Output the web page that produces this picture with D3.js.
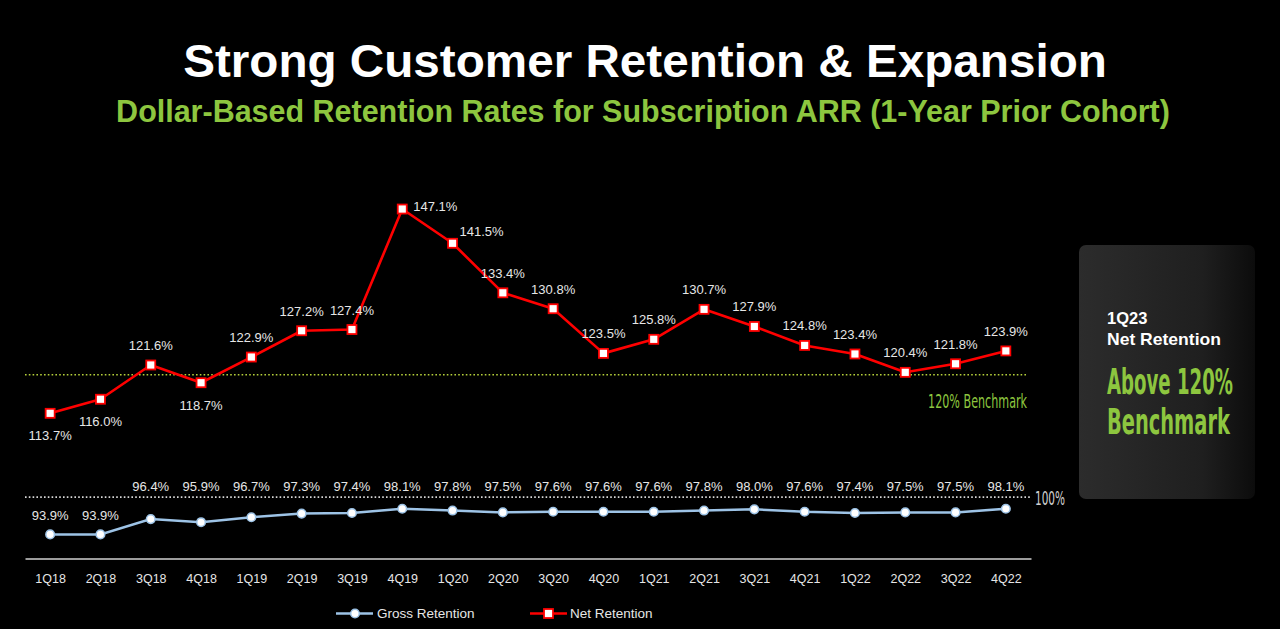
<!DOCTYPE html>
<html>
<head>
<meta charset="utf-8">
<script src="https://cdn.jsdelivr.net/npm/d3@7"></script>
<style>
  html, body { margin: 0; padding: 0; background: #000; }
  svg { display: block; font-family: "Liberation Sans", Arial, Helvetica, sans-serif; }
</style>
</head>
<body>
<svg id="chart" width="1280" height="629"></svg>
<script>
// ---- data ----
const quarters = ["1Q18","2Q18","3Q18","4Q18","1Q19","2Q19","3Q19","4Q19","1Q20","2Q20",
                  "3Q20","4Q20","1Q21","2Q21","3Q21","4Q21","1Q22","2Q22","3Q22","4Q22"];
const netRetention = [113.7,116.0,121.6,118.7,122.9,127.2,127.4,147.1,141.5,133.4,
                      130.8,123.5,125.8,130.7,127.9,124.8,123.4,120.4,121.8,123.9];
const grossRetention = [93.9,93.9,96.4,95.9,96.7,97.3,97.4,98.1,97.8,97.5,
                        97.6,97.6,97.6,97.8,98.0,97.6,97.4,97.5,97.5,98.1];
const benchmarkValue = 120;
const grossReferenceValue = 100;
const seriesNames = ["Gross Retention", "Net Retention"];
const titleText = "Strong Customer Retention & Expansion";
const subtitleText = "Dollar-Based Retention Rates for Subscription ARR (1-Year Prior Cohort)";
const calloutLines = ["1Q23", "Net Retention", "Above 120%", "Benchmark"];

// ---- styling ----
const GREEN = "#8dc63f";
const RED = "#ff0000";
const BLUE = "#9dc3e6";
const LABEL = "#e6e6e6";
const NARROW = "'Liberation Sans Narrow', 'DejaVu Sans Condensed', 'Liberation Sans', Arial, sans-serif";

const svg = d3.select("#chart");

// fit a text to a width by horizontal scaling (keeps real bounding box honest)
function fitText(sel, x, y, width, anchor) {
  const node = sel.node();
  const w = node.getComputedTextLength();
  const s = width / w;
  sel.attr("x", 0).attr("y", 0)
     .attr("text-anchor", anchor || "start")
     .attr("transform", `translate(${x},${y}) scale(${s},1)`);
  return sel;
}

// ---- scales ----
const x = d3.scalePoint().domain(quarters).range([25, 1031]).padding(0.5);
const y = d3.scaleLinear().domain([100, 150]).range([497.1, 191.3]);

// ---- title ----
fitText(svg.append("text").attr("fill", "#fff").attr("font-weight", "bold")
  .attr("font-size", 47).text(titleText), 645, 77, 924, "middle");
fitText(svg.append("text").attr("fill", GREEN).attr("font-weight", "bold")
  .attr("font-size", 30.5).text(subtitleText), 643, 122, 1054, "middle");

// ---- reference lines ----
const [x0, x1] = x.range();
svg.append("line").attr("x1", x0).attr("x2", x1 - 4)
  .attr("y1", y(benchmarkValue)).attr("y2", y(benchmarkValue))
  .attr("stroke", "#b5cf3a").attr("stroke-width", 1.6).attr("stroke-dasharray", "1.6,2.2");
fitText(svg.append("text").attr("fill", GREEN).attr("font-size", 19)
  .attr("font-family", NARROW).text(benchmarkValue + "% Benchmark"),
  x1 - 4, y(benchmarkValue) + 33, 99, "end");

svg.append("line").attr("x1", x0).attr("x2", x1)
  .attr("y1", y(grossReferenceValue)).attr("y2", y(grossReferenceValue))
  .attr("stroke", "#d8d8d8").attr("stroke-width", 1.6).attr("stroke-dasharray", "1.6,2.2");
fitText(svg.append("text").attr("fill", "#cfcfcf").attr("font-size", 20)
  .attr("font-family", NARROW).text(grossReferenceValue + "%"),
  x1 + 4, y(grossReferenceValue) + 8, 30, "start");

// ---- x axis ----
const axis = svg.append("g").attr("transform", "translate(0,558.5)")
  .call(d3.axisBottom(x).tickSize(0).tickSizeOuter(0).tickPadding(16));
axis.select(".domain").attr("stroke", "#d0d0d0").attr("stroke-width", 1.5);
axis.selectAll("text").attr("fill", LABEL).attr("font-size", 12.5)
  .attr("font-family", "'Liberation Sans', Arial, sans-serif");

// ---- gross retention ----
const grossData = quarters.map((q, i) => ({ q, v: grossRetention[i] }));
svg.append("path").datum(grossData)
  .attr("fill", "none").attr("stroke", BLUE).attr("stroke-width", 2.5)
  .attr("d", d3.line().x(d => x(d.q)).y(d => y(d.v)));
svg.selectAll(".gdot").data(grossData).enter().append("circle")
  .attr("cx", d => x(d.q)).attr("cy", d => y(d.v)).attr("r", 4.3)
  .attr("fill", "#fff").attr("stroke", BLUE).attr("stroke-width", 1.5);
const refY = y(grossReferenceValue);
svg.selectAll(".glab").data(grossData).enter().append("text")
  .attr("x", d => x(d.q))
  .attr("y", d => {
    const ly = y(d.v) - 19;
    return (ly < refY + 12) ? Math.min(ly, refY - 11) + 5 : ly + 5;
  })
  .attr("text-anchor", "middle").attr("fill", LABEL).attr("font-size", 13)
  .text(d => d.v.toFixed(1) + "%");

// ---- net retention ----
const netData = quarters.map((q, i) => ({ q, v: netRetention[i], i }));
const maxIdx = d3.maxIndex(netRetention);
svg.append("path").datum(netData)
  .attr("fill", "none").attr("stroke", RED).attr("stroke-width", 2.6)
  .attr("stroke-linejoin", "round")
  .attr("d", d3.line().x(d => x(d.q)).y(d => y(d.v)));
svg.selectAll(".ndot").data(netData).enter().append("rect")
  .attr("x", d => x(d.q) - 4.5).attr("y", d => y(d.v) - 4.5)
  .attr("width", 9).attr("height", 9)
  .attr("fill", "#fff").attr("stroke", RED).attr("stroke-width", 1.8);
svg.selectAll(".nlab").data(netData).enter().append("text")
  .attr("x", d => {
    if (d.i === maxIdx) return x(d.q) + 11;
    if (d.i === maxIdx + 1) return x(d.q) + 7;
    return x(d.q);
  })
  .attr("y", d => {
    if (d.i === maxIdx) return y(d.v) + 2;
    if (d.i === maxIdx + 1) return y(d.v) - 7;
    if (d.v < benchmarkValue) return y(d.v) + 27;
    return y(d.v) - 15;
  })
  .attr("text-anchor", d => (d.i === maxIdx || d.i === maxIdx + 1) ? "start" : "middle")
  .attr("fill", LABEL).attr("font-size", 13)
  .text(d => d.v.toFixed(1) + "%");

// ---- legend ----
const leg = svg.append("g");
leg.append("line").attr("x1", 336).attr("x2", 373).attr("y1", 613.5).attr("y2", 613.5)
  .attr("stroke", BLUE).attr("stroke-width", 2.5);
leg.append("circle").attr("cx", 355).attr("cy", 613.5).attr("r", 4.3)
  .attr("fill", "#fff").attr("stroke", BLUE).attr("stroke-width", 1.5);
leg.append("text").attr("x", 377).attr("y", 618).attr("fill", LABEL).attr("font-size", 13.5)
  .text(seriesNames[0]);
leg.append("line").attr("x1", 530).attr("x2", 567).attr("y1", 613.5).attr("y2", 613.5)
  .attr("stroke", RED).attr("stroke-width", 2.6);
leg.append("rect").attr("x", 544).attr("y", 609).attr("width", 9).attr("height", 9)
  .attr("fill", "#fff").attr("stroke", RED).attr("stroke-width", 1.8);
leg.append("text").attr("x", 570).attr("y", 618).attr("fill", LABEL).attr("font-size", 13.5)
  .text(seriesNames[1]);

// ---- callout box ----
const defs = svg.append("defs");
const grad = defs.append("linearGradient").attr("id", "boxGrad")
  .attr("x1", "0").attr("x2", "1").attr("y1", "0").attr("y2", "0");
grad.append("stop").attr("offset", "0%").attr("stop-color", "#2c2c2c");
grad.append("stop").attr("offset", "70%").attr("stop-color", "#1f1f1f");
grad.append("stop").attr("offset", "100%").attr("stop-color", "#0c0c0c");
svg.append("rect").attr("x", 1079).attr("y", 245).attr("width", 176).attr("height", 254)
  .attr("rx", 7).attr("fill", "url(#boxGrad)");
svg.append("text").attr("x", 1107).attr("y", 323.5).attr("fill", "#fff")
  .attr("font-weight", "bold").attr("font-size", 16.5).text(calloutLines[0]);
fitText(svg.append("text").attr("fill", "#fff").attr("font-weight", "bold")
  .attr("font-size", 16.5).text(calloutLines[1]), 1107, 345, 114, "start");
fitText(svg.append("text").attr("fill", GREEN).attr("font-weight", "bold")
  .attr("font-size", 35).attr("font-family", NARROW).text(calloutLines[2]), 1107, 393.5, 126, "start");
fitText(svg.append("text").attr("fill", GREEN).attr("font-weight", "bold")
  .attr("font-size", 35).attr("font-family", NARROW).text(calloutLines[3]), 1107, 433.5, 123, "start");
</script>
</body>
</html>
